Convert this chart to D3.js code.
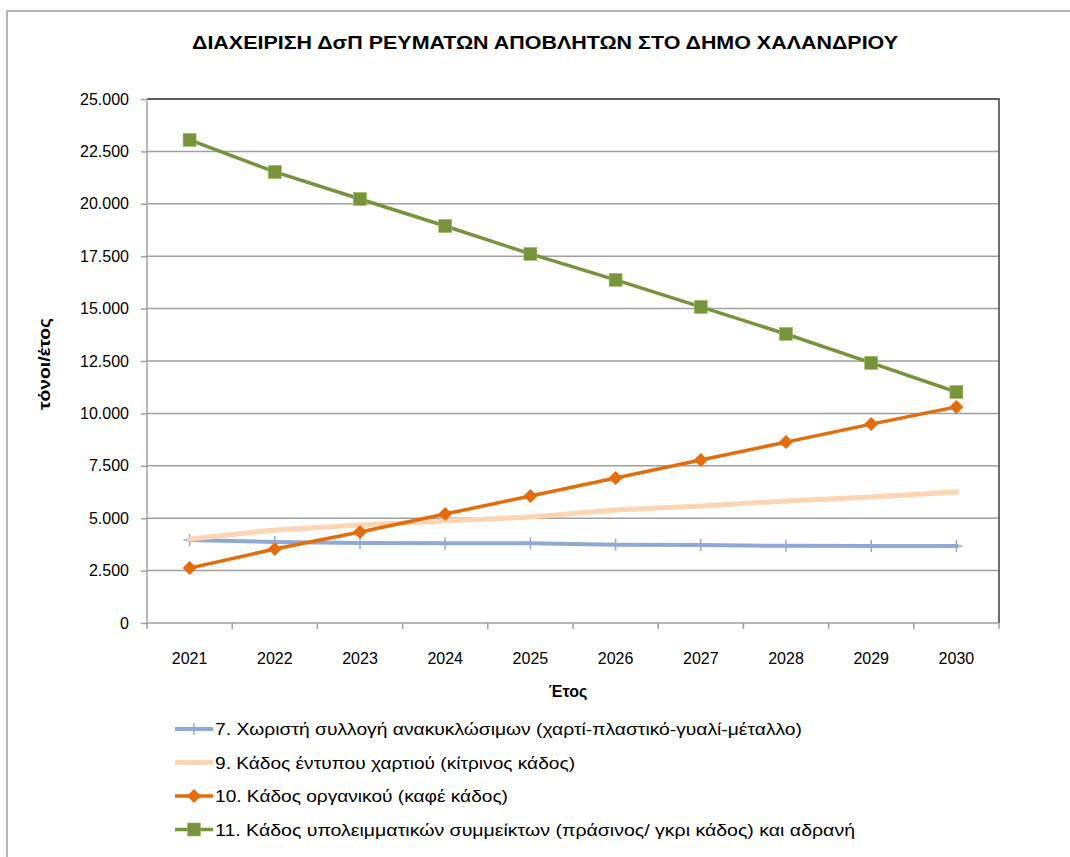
<!DOCTYPE html>
<html>
<head>
<meta charset="utf-8">
<script src="https://cdn.jsdelivr.net/npm/d3@7"></script>
<style>
  body { margin: 0; background: #fff; }
  svg { display: block; font-family: "Liberation Sans", Arial, sans-serif; }
</style>
</head>
<body>
<script>
const years = ["2021", "2022", "2023", "2024", "2025", "2026", "2027", "2028", "2029", "2030"]
const recyclables = [3960, 3870, 3820, 3810, 3800, 3730, 3720, 3680, 3670, 3670]
const paperBin = [4010, 4440, 4680, 4870, 5060, 5390, 5580, 5820, 6010, 6250]
const organicBin = [2620, 3530, 4340, 5200, 6060, 6920, 7780, 8630, 9490, 10310]
const residualBin = [23050, 21520, 20230, 18940, 17610, 16370, 15080, 13790, 12410, 11020]
const yTicks = [0, 2500, 5000, 7500, 10000, 12500, 15000, 17500, 20000, 22500, 25000]
const seriesNames = [
    "7. Χωριστή συλλογή ανακυκλώσιμων (χαρτί-πλαστικό-γυαλί-μέταλλο)",
    "9. Κάδος έντυπου χαρτιού (κίτρινος κάδος)",
    "10. Κάδος οργανικού  (καφέ κάδος)",
    "11. Κάδος υπολειμματικών συμμείκτων (πράσινος/ γκρι κάδος) και αδρανή"
]

const series = [
    { name: seriesNames[0], values: recyclables, color: "#8eaad4", width: 4, marker: "plus", textW: 587 },
    { name: seriesNames[1], values: paperBin, color: "#fcd5b4", width: 5, marker: "none", textW: 360 },
    { name: seriesNames[2], values: organicBin, color: "#e46c0a", width: 3.5, marker: "diamond", textW: 293 },
    { name: seriesNames[3], values: residualBin, color: "#77933c", width: 3.5, marker: "square", textW: 640 }
]

const width = 1070
const height = 857
const plot = { left: 147, right: 999, top: 99, bottom: 623 }

const svg = d3.select("body").append("svg")
    .attr("width", width)
    .attr("height", height)

// outer chart border
svg.append("rect")
    .attr("x", 7).attr("y", 11)
    .attr("width", width + 10).attr("height", height + 10)
    .attr("fill", "#fff")
    .attr("stroke", "#a0a0a0")
    .attr("stroke-width", 1.5)

svg.append("text")
    .attr("x", 545).attr("y", 49)
    .attr("text-anchor", "middle")
    .attr("font-size", 19)
    .attr("font-weight", "bold")
    .attr("textLength", 706)
    .attr("lengthAdjust", "spacingAndGlyphs")
    .text("ΔΙΑΧΕΙΡΙΣΗ ΔσΠ ΡΕΥΜΑΤΩΝ ΑΠΟΒΛΗΤΩΝ ΣΤΟ ΔΗΜΟ ΧΑΛΑΝΔΡΙΟΥ")

const xScale = d3.scaleBand()
    .domain(years)
    .range([plot.left, plot.right])

const yScale = d3.scaleLinear()
    .domain([0, 25000])
    .range([plot.bottom, plot.top])

const fmt = d => d === 0 ? "0" : d3.format(",.3f")(d / 1000).replace(",", "")

// gridlines
svg.append("g")
    .selectAll("line")
    .data(yTicks.slice(1))
    .enter()
    .append("line")
    .attr("x1", plot.left).attr("x2", plot.right)
    .attr("y1", d => yScale(d)).attr("y2", d => yScale(d))
    .attr("stroke", "#a0a0a0")
    .attr("stroke-width", 1.5)

// plot area border (top/right dark)
svg.append("path")
    .attr("d", `M${plot.left},${plot.top}H${plot.right}V${plot.bottom}`)
    .attr("fill", "none")
    .attr("stroke", "#404040")
    .attr("stroke-width", 1.5)

// y axis
const yAxis = d3.axisLeft(yScale)
    .tickValues(yTicks)
    .tickFormat(fmt)
    .tickSize(6)
    .tickPadding(12)
svg.append("g")
    .attr("transform", `translate(${plot.left},0)`)
    .call(yAxis)
    .call(g => g.select(".domain").attr("stroke", "#a0a0a0").attr("stroke-width", 1.5).attr("d", `M0,${plot.top}V${plot.bottom}`))
    .call(g => g.selectAll(".tick line").attr("stroke", "#a0a0a0").attr("stroke-width", 1.5))
    .call(g => g.selectAll(".tick text").attr("font-size", 16).attr("fill", "#000").attr("font-family", "Liberation Sans, Arial, sans-serif"))

// x axis
const xAxis = d3.axisBottom(xScale).tickSize(0).tickPadding(30)
svg.append("g")
    .attr("transform", `translate(0,${plot.bottom})`)
    .call(xAxis)
    .call(g => g.select(".domain").attr("stroke", "#a0a0a0").attr("stroke-width", 1.5).attr("d", `M${plot.left},0H${plot.right}`))
    .call(g => g.selectAll(".tick text").attr("font-size", 16).attr("fill", "#000"))

// x category boundary ticks
svg.append("g")
    .selectAll("line")
    .data(years.concat(["end"]))
    .enter()
    .append("line")
    .attr("x1", (d, i) => plot.left + i * xScale.step())
    .attr("x2", (d, i) => plot.left + i * xScale.step())
    .attr("y1", plot.bottom).attr("y2", plot.bottom + 6)
    .attr("stroke", "#a0a0a0")
    .attr("stroke-width", 1.5)

// axis titles
svg.append("text")
    .attr("x", 568).attr("y", 697)
    .attr("text-anchor", "middle")
    .attr("font-size", 16)
    .attr("font-weight", "bold")
    .text("Έτος")

svg.append("text")
    .attr("transform", `translate(50,364) rotate(-90)`)
    .attr("text-anchor", "middle")
    .attr("font-size", 17)
    .attr("font-weight", "bold")
    .attr("textLength", 92)
    .attr("lengthAdjust", "spacingAndGlyphs")
    .text("τόνοι/έτος")

const cx = d => xScale(d) + xScale.bandwidth() / 2

const line = d3.line()
    .x((d, i) => cx(years[i]))
    .y(d => yScale(d))

function drawMarker(g, type, color) {
    if (type === "square") {
        g.append("rect").attr("x", -6.5).attr("y", -6.5).attr("width", 13).attr("height", 13)
            .attr("fill", color).attr("stroke", "#9bbb59").attr("stroke-width", 0.6)
    } else if (type === "diamond") {
        g.append("path").attr("d", "M0,-7L7,0L0,7L-7,0Z").attr("fill", color)
    } else if (type === "plus") {
        g.append("path").attr("d", "M0,-6V6M-6,0H6").attr("stroke", color).attr("stroke-width", 1.5)
    }
}

series.forEach(s => {
    const g = svg.append("g")
    g.append("path")
        .datum(s.values)
        .attr("d", line)
        .attr("fill", "none")
        .attr("stroke", s.color)
        .attr("stroke-width", s.width)
        .attr("stroke-linejoin", "round")
        .attr("stroke-linecap", s.marker === "none" || s.marker === "plus" ? "square" : "round")
    s.values.forEach((v, i) => {
        const m = g.append("g").attr("transform", `translate(${cx(years[i])},${yScale(v)})`)
        drawMarker(m, s.marker, s.color)
    })
})

// legend
const legend = svg.append("g")
series.forEach((s, i) => {
    const y = 729 + i * 33.5
    const g = legend.append("g").attr("transform", `translate(175,${y})`)
    g.append("line").attr("x1", 0).attr("x2", 38).attr("y1", 0).attr("y2", 0)
        .attr("stroke", s.color).attr("stroke-width", s.width)
    const m = g.append("g").attr("transform", "translate(19,0)")
    drawMarker(m, s.marker, s.color)
    g.append("text")
        .attr("x", 40).attr("y", 6)
        .attr("font-size", 17)
        .attr("textLength", s.textW)
        .attr("lengthAdjust", "spacingAndGlyphs")
        .text(s.name)
})
</script>
</body>
</html>
